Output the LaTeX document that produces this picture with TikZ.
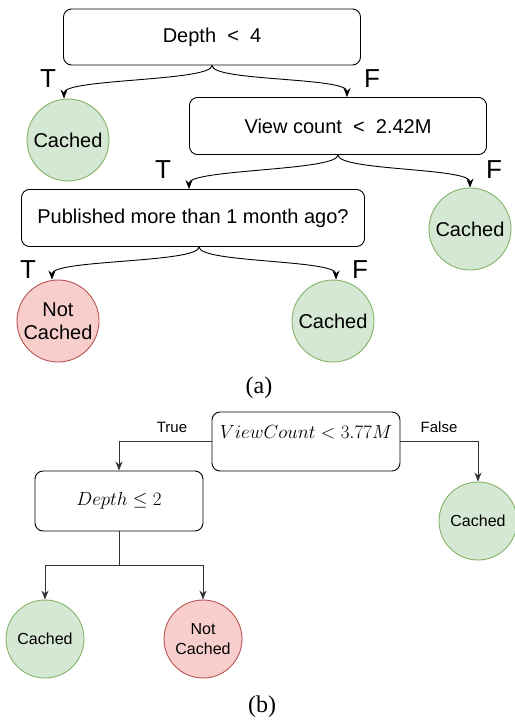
\RequirePackage{fix-cm}
\documentclass[tikz,border=0pt]{standalone}
\usepackage{amssymb}
\usepackage[no-math]{fontspec}
\setsansfont{Liberation Sans}
\newfontfamily\capfont{Liberation Serif}
\usetikzlibrary{arrows.meta}
\definecolor{leafgreen}{HTML}{82B366}
\definecolor{leafgreenfill}{HTML}{D5E8D4}
\definecolor{leafred}{HTML}{B85450}
\definecolor{leafredfill}{HTML}{F8CECC}

\begin{document}
\begin{tikzpicture}[x=1pt,y=-1pt,
  testbox/.style={draw,rounded corners=8pt,line width=0.9pt,inner sep=0pt,font=\sffamily\fontsize{20}{24}\selectfont},
  hitleaf/.style={circle,draw=leafgreen,fill=leafgreenfill,line width=0.9pt,inner sep=0pt,align=center},
  missleaf/.style={circle,draw=leafred,fill=leafredfill,line width=0.9pt,inner sep=0pt,align=center},
  bigleaf/.style={minimum size=82pt,font=\sffamily\fontsize{20}{23}\selectfont},
  smallleaf/.style={minimum size=78pt,font=\sffamily\fontsize{16}{20}\selectfont},
  curvy/.style={-{Stealth[length=9pt,width=7pt]},line width=0.9pt},
  elbow/.style={-{Stealth[length=9pt,width=7pt]},line width=0.9pt,draw=black!80},
  branch/.style={font=\sffamily\fontsize{26}{30}\selectfont},
  edgetag/.style={font=\sffamily\fontsize{15}{18}\selectfont},
  caption/.style={font=\capfont\fontsize{24}{28}\selectfont}]
\useasboundingbox (0,0) rectangle (514,720);

% (a)
\node[testbox,minimum width=297pt,minimum height=56pt] (depth) at (212,37) {Depth\ \ <\ \ 4};
\node[hitleaf,bigleaf] (hitA) at (68,140) {Cached};
\node[testbox,minimum width=297pt,minimum height=57pt] (views) at (338,126) {View count\ \ <\ \ 2.42M};
\node[testbox,minimum width=343pt,minimum height=57pt] (month) at (193,218) {Published more than 1 month ago?};
\node[hitleaf,bigleaf] (hitB) at (470,229) {Cached};
\node[missleaf,bigleaf] (missA) at (58,321) {Not\\Cached};
\node[hitleaf,bigleaf] (hitC) at (333,321) {Cached};

\draw[curvy] (depth.south) .. controls +(0,16) and +(0,-20) .. ([xshift=-4pt]hitA.north);
\draw[curvy] (depth.south) .. controls +(0,16) and +(0,-20) .. ([xshift=9pt]views.north);
\draw[curvy] (views.south) .. controls +(0,16) and +(0,-20) .. ([xshift=-4pt]month.north);
\draw[curvy] (views.south) .. controls +(0,16) and +(0,-20) .. (hitB.north);
\draw[curvy] ([xshift=6pt]month.south) .. controls +(0,16) and +(0,-20) .. ([xshift=-6pt]missA.north);
\draw[curvy] ([xshift=6pt]month.south) .. controls +(0,16) and +(0,-20) .. ([xshift=3pt]hitC.north);

\node[branch] (tA) at (48,79) {T};
\node[branch] (fA) at (372,79) {F};
\node[branch] (tB) at (163,170) {T};
\node[branch] (fB) at (494,170) {F};
\node[branch] (tC) at (28,270) {T};
\node[branch] (fC) at (360,270) {F};

\node[caption] (capA) at (259,388) {(a)};

% (b)
\node[testbox,minimum width=188pt,text height=26pt,text depth=33pt,anchor=base,font=\fontsize{19}{22}\selectfont] (vcount) at (306,438) {$ViewCount < 3.77M$};
\node[testbox,minimum width=168pt,minimum height=60pt,font=\fontsize{19}{22}\selectfont] (depthb) at (119,501) {$Depth \leq 2$};
\node[hitleaf,smallleaf] (hitD) at (478,521) {Cached};
\node[hitleaf,smallleaf] (hitE) at (45,639) {Cached};
\node[missleaf,smallleaf] (missB) at (203,639) {Not\\Cached};

\draw[elbow] (vcount.west) -| (depthb.north);
\draw[elbow] (vcount.east) -| (hitD.north);
\draw[elbow] (depthb.south) -- ++(0,34) coordinate (fork) -| (hitE.north);
\draw[elbow] (fork) -| (missB.north);

\node[edgetag] (yes) at (172,427) {True};
\node[edgetag] (no) at (439,427) {False};

\node[caption] (capB) at (262,707) {(b)};
\end{tikzpicture}
\end{document}
